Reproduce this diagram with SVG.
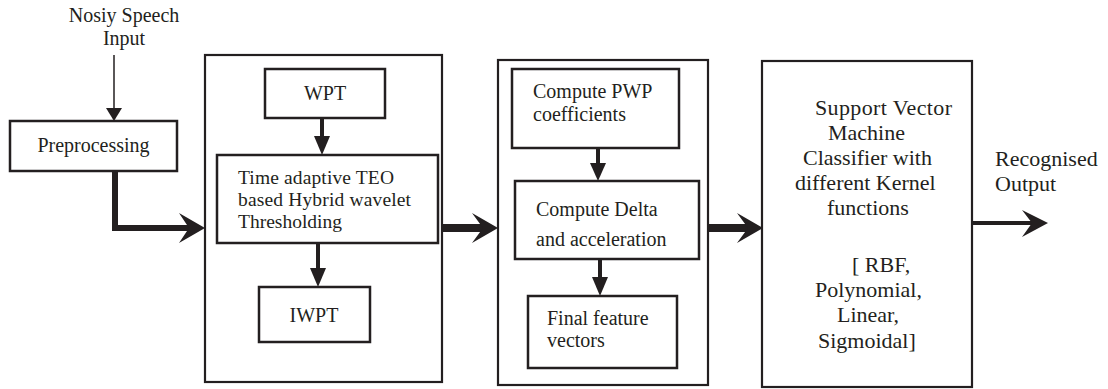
<svg xmlns="http://www.w3.org/2000/svg" width="1108" height="389" viewBox="0 0 1108 389" font-family="'Liberation Serif', Tinos, 'Nimbus Roman', 'DejaVu Serif', serif">
  <style>
    .box { fill: #ffffff; stroke: #231f20; stroke-width: 2.5; }
    .outer { fill: #ffffff; stroke: #231f20; stroke-width: 2.2; }
    text { font-family: 'Liberation Serif', Tinos, 'Nimbus Roman', 'DejaVu Serif', serif; fill: #231f20; }
    .t20 { font-size: 20px; }
    .t19 { font-size: 19.5px; }
    .t22 { font-size: 22px; }
    .mid { text-anchor: middle; }
    .flow { fill: none; stroke: #231f20; stroke-linejoin: miter; }
    .barb { fill: #231f20; }
  </style>

  <rect width="1108" height="389" fill="#ffffff"/>

  <!-- Input label -->
  <g id="input">
    <text class="t20 mid" x="124" y="22">Nosiy Speech</text>
    <text class="t20 mid" x="124" y="45">Input</text>
  </g>

  <g id="preprocessing">
    <rect class="box" x="10" y="121" width="167" height="50"/>
    <text class="t20 mid" x="93.5" y="152">Preprocessing</text>
  </g>

  <!-- Denoising stage -->
  <g id="denoising">
    <rect class="outer" x="205" y="55" width="237" height="327"/>
  </g>
  <g id="wpt">
    <rect class="box" x="265" y="69" width="120" height="49"/>
    <text class="t20 mid" x="325" y="100">WPT</text>
  </g>
  <g id="teo-threshold">
    <rect class="box" x="217" y="155" width="221" height="88"/>
    <text class="t19" x="238" y="184" textLength="156" lengthAdjust="spacing">Time adaptive TEO</text>
    <text class="t19" x="238" y="206" textLength="173" lengthAdjust="spacing">based Hybrid wavelet</text>
    <text class="t19" x="238" y="228">Thresholding</text>
  </g>
  <g id="iwpt">
    <rect class="box" x="259" y="287" width="111" height="55"/>
    <text class="t20 mid" x="314" y="322">IWPT</text>
  </g>

  <!-- Feature extraction stage -->
  <g id="features">
    <rect class="outer" x="498" y="60" width="210" height="325"/>
  </g>
  <g id="pwp">
    <rect class="box" x="512" y="69" width="167" height="79"/>
    <text class="t20" x="533" y="98">Compute PWP</text>
    <text class="t20" x="533" y="121">coefficients</text>
  </g>
  <g id="delta">
    <rect class="box" x="515" y="181" width="184" height="78"/>
    <text class="t20" x="536" y="216">Compute Delta</text>
    <text class="t20" x="536" y="246">and acceleration</text>
  </g>
  <g id="final-vectors">
    <rect class="box" x="528" y="296" width="149" height="72"/>
    <text class="t20" x="547" y="325">Final feature</text>
    <text class="t20" x="547" y="347">vectors</text>
  </g>

  <!-- Classifier -->
  <g id="svm">
    <rect class="outer" x="762" y="61" width="210" height="326"/>
    <text class="t22" x="815" y="115" textLength="137" lengthAdjust="spacing">Support Vector</text>
    <text class="t22" x="828" y="140">Machine</text>
    <text class="t22" x="803" y="165">Classifier with</text>
    <text class="t22" x="795" y="190">different Kernel</text>
    <text class="t22" x="827" y="215">functions</text>
    <text class="t22" x="852" y="272">[ RBF,</text>
    <text class="t22" x="815" y="297">Polynomial,</text>
    <text class="t22" x="837" y="322">Linear,</text>
    <text class="t22" x="818" y="348">Sigmoidal]</text>
  </g>

  <g id="output">
    <text class="t22" x="995" y="166">Recognised</text>
    <text class="t22" x="995" y="191">Output</text>
  </g>

  <!-- Connectors -->
  <g id="connectors">
    <!-- speech input -->
    <line class="flow" x1="114" y1="55" x2="114" y2="109" stroke="#7a7a7a" stroke-width="1.5"/>
    <polygon class="barb" points="106,108 122,108 114,121"/>

    <!-- preprocessing to denoising -->
    <path class="flow" d="M115,171 V228 H190" stroke-width="6"/>
    <polygon class="barb" points="205,228 179,213 189,228 179,243"/>

    <!-- WPT to thresholding -->
    <line class="flow" x1="322" y1="118" x2="322" y2="138" stroke-width="4"/>
    <polygon class="barb" points="314,136 330,136 322,155"/>

    <!-- thresholding to IWPT -->
    <line class="flow" x1="318" y1="243" x2="318" y2="270" stroke-width="4"/>
    <polygon class="barb" points="310,268 326,268 318,287"/>

    <!-- denoising to features -->
    <line class="flow" x1="442" y1="228" x2="484" y2="228" stroke-width="8"/>
    <polygon class="barb" points="498,228 472,213 483,228 472,243"/>

    <!-- PWP to delta -->
    <line class="flow" x1="598" y1="148" x2="598" y2="165" stroke-width="4"/>
    <polygon class="barb" points="590,163 606,163 598,181"/>

    <!-- delta to final vectors -->
    <line class="flow" x1="600" y1="259" x2="600" y2="279" stroke-width="4"/>
    <polygon class="barb" points="592,277 608,277 600,296"/>

    <!-- features to classifier -->
    <line class="flow" x1="708" y1="228" x2="749" y2="228" stroke-width="8"/>
    <polygon class="barb" points="763,228 737,213 748,228 737,243"/>

    <!-- classifier to output -->
    <line class="flow" x1="972" y1="223" x2="1034" y2="223" stroke-width="4"/>
    <polygon class="barb" points="1048,223 1022,210 1032,223 1022,237"/>
  </g>
</svg>
